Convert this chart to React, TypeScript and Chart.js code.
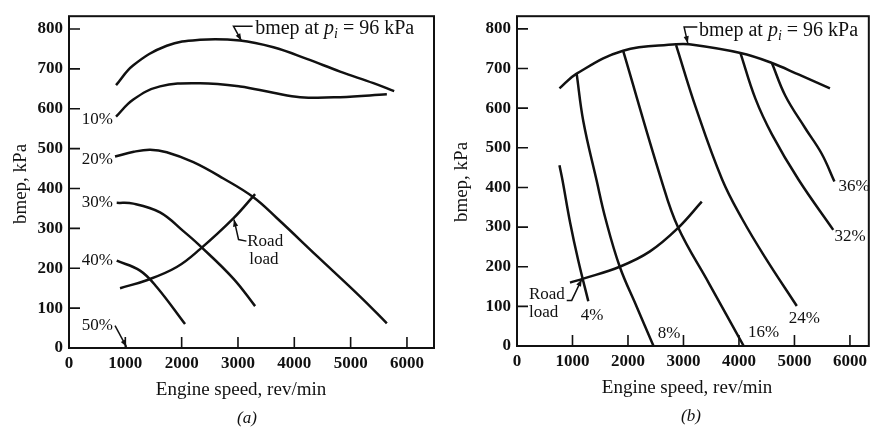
import React, { useEffect, useRef } from "react";
import { Chart, registerables } from "chart.js";

Chart.register(...registerables);

type Pt = [number, number];

// ---------------- shared axis ticks ----------------
const X_TICKS = [0, 1000, 2000, 3000, 4000, 5000, 6000];
const Y_TICKS = [0, 100, 200, 300, 400, 500, 600, 700, 800];

// ---------------- panel (a): engine speed (rev/min) vs bmep (kPa) ----------------
const A_BMEP96: Pt[] = [[835, 659], [1142, 709], [1735, 758], [2327, 773], [3037, 771], [3629, 754], [4222, 725], [4813, 693], [5405, 664], [5773, 644]];
const A_10: Pt[] = [[835, 580], [1142, 623], [1616, 656], [2327, 664], [3037, 656], [3629, 640], [4103, 629], [4813, 629], [5643, 636]];
const A_20: Pt[] = [[817, 480], [1150, 492], [1439, 497], [1735, 491], [2208, 466], [2741, 425], [3274, 378], [3689, 326], [4400, 231], [5169, 129], [5643, 62]];
const A_30: Pt[] = [[847, 364], [1142, 362], [1616, 340], [2030, 293], [2327, 256], [2918, 174], [3304, 105]];
const A_40: Pt[] = [[847, 219], [1261, 194], [1557, 153], [2060, 60]];
const A_ROAD: Pt[] = [[906, 150], [1380, 170], [1913, 203], [2327, 248], [2918, 325], [3304, 386]];
const A_LEAD_50: Pt[] = [[1020, 3], [817, 56]];
const A_LEAD_BMEP: Pt[] = [[3060, 771], [2920, 807], [3260, 807]];
const A_LEAD_ROAD: Pt[] = [[2930, 322], [3010, 272], [3150, 268]];

// ---------------- panel (b) ----------------
const B_BMEP96: Pt[] = [[765, 650], [1075, 687], [1912, 745], [2867, 761], [3100, 761], [4027, 739], [4594, 714], [5072, 685], [5640, 650]];
const B_4: Pt[] = [[765, 456], [820, 418], [955, 313], [1105, 215], [1285, 113]];
const B_8: Pt[] = [[1075, 687], [1195, 567], [1434, 418], [1595, 321], [1852, 200], [2151, 101], [2460, 0]];
const B_16: Pt[] = [[1912, 745], [2599, 420], [2900, 300], [3459, 158], [4086, 0]];
const B_24: Pt[] = [[2867, 759], [3226, 600], [3697, 420], [4056, 321], [4474, 223], [5042, 101]];
const B_32: Pt[] = [[4027, 739], [4296, 624], [4594, 534], [5072, 420], [5699, 293]];
const B_36: Pt[] = [[4594, 714], [4833, 632], [5192, 550], [5491, 485], [5720, 415]];
const B_ROAD: Pt[] = [[955, 160], [1195, 170], [1852, 200], [2390, 238], [2897, 297], [3330, 364]];
const B_LEAD_ROAD: Pt[] = [[1165, 168], [986, 115], [896, 115]];
const B_LEAD_BMEP: Pt[] = [[3077, 764], [3011, 805], [3250, 805]];

// ---------------- text annotations (anchored in data units) ----------------
type Lbl = { text: string; x: number; y: number; align: CanvasTextAlign };
const A_LABELS: Lbl[] = [
  { text: "10%", x: 778, y: 574, align: "right" },
  { text: "20%", x: 778, y: 472, align: "right" },
  { text: "30%", x: 778, y: 364, align: "right" },
  { text: "40%", x: 778, y: 220, align: "right" },
  { text: "50%", x: 778, y: 57, align: "right" },
  { text: "Road", x: 3165, y: 268, align: "left" },
  { text: "load", x: 3200, y: 222, align: "left" },
];
const B_LABELS: Lbl[] = [
  { text: "4%", x: 1353, y: 76, align: "center" },
  { text: "8%", x: 2742, y: 32, align: "center" },
  { text: "16%", x: 4444, y: 35, align: "center" },
  { text: "24%", x: 5180, y: 69, align: "center" },
  { text: "32%", x: 6004, y: 277, align: "center" },
  { text: "36%", x: 6075, y: 403, align: "center" },
  { text: "Road", x: 215, y: 130, align: "left" },
  { text: "load", x: 215, y: 84, align: "left" },
];
const A_BMEP_LABEL: Pt = [3305, 803];
const B_BMEP_LABEL: Pt = [3280, 798];

const INK = "#111";
const FAMILY = "'Liberation Serif', 'Times New Roman', serif";

type Series = { data: Pt[]; smooth: boolean; arrow?: boolean };
interface PanelCfg {
  series: Series[];
  labels: Lbl[];
  bmepAt: Pt;
  xMax: number;
  yMax: number;
  padTop: number;
  padRight: number;
  yWidth: number;
  xHeight: number;
  xTitle: [number, number];
  yTitle: [number, number];
  tag: string;
  tagPos: [number, number];
}

const PANEL_A: PanelCfg = {
  series: [
    { data: A_BMEP96, smooth: true },
    { data: A_10, smooth: true },
    { data: A_20, smooth: true },
    { data: A_30, smooth: true },
    { data: A_40, smooth: true },
    { data: A_ROAD, smooth: true },
    { data: A_LEAD_50, smooth: false, arrow: true },
    { data: A_LEAD_BMEP, smooth: false, arrow: true },
    { data: A_LEAD_ROAD, smooth: false, arrow: true },
  ],
  labels: A_LABELS,
  bmepAt: A_BMEP_LABEL,
  xMax: 6480,
  yMax: 832,
  padTop: 8,
  padRight: 2,
  yWidth: 69,
  xHeight: 82,
  xTitle: [241, 390],
  yTitle: [21, 184],
  tag: "(a)",
  tagPos: [247, 419],
};

const PANEL_B: PanelCfg = {
  series: [
    { data: B_BMEP96, smooth: true },
    { data: B_4, smooth: true },
    { data: B_8, smooth: true },
    { data: B_16, smooth: true },
    { data: B_24, smooth: true },
    { data: B_32, smooth: true },
    { data: B_36, smooth: true },
    { data: B_ROAD, smooth: true },
    { data: B_LEAD_ROAD, smooth: false, arrow: true },
    { data: B_LEAD_BMEP, smooth: false, arrow: true },
  ],
  labels: B_LABELS,
  bmepAt: B_BMEP_LABEL,
  xMax: 6340,
  yMax: 832,
  padTop: 7,
  padRight: 1,
  yWidth: 81,
  xHeight: 84,
  xTitle: [251, 388],
  yTitle: [26, 182],
  tag: "(b)",
  tagPos: [255, 417],
};

function drawBmep(ctx: CanvasRenderingContext2D, x: number, y: number) {
  const parts = [
    { t: "bmep at ", f: `20px ${FAMILY}`, dy: 0 },
    { t: "p", f: `italic 20px ${FAMILY}`, dy: 0 },
    { t: "i", f: `italic 14px ${FAMILY}`, dy: 4 },
    { t: " = 96 kPa", f: `20px ${FAMILY}`, dy: 0 },
  ];
  ctx.textAlign = "left";
  ctx.textBaseline = "alphabetic";
  let cx = x;
  for (const p of parts) {
    ctx.font = p.f;
    ctx.fillText(p.t, cx, y + p.dy);
    cx += ctx.measureText(p.t).width;
  }
}

function Panel({ cfg, left }: { cfg: PanelCfg; left: number }) {
  const ref = useRef<HTMLCanvasElement>(null);
  useEffect(() => {
    const canvas = ref.current!;
    const overlay = {
      id: "overlay",
      afterDraw(chart: any) {
        const { ctx, chartArea: ca } = chart;
        const xs = chart.scales.x;
        const ys = chart.scales.y;
        ctx.save();
        ctx.strokeStyle = INK;
        ctx.fillStyle = INK;
        // frame
        ctx.lineWidth = 2;
        ctx.strokeRect(ca.left, ca.top, ca.right - ca.left, ca.bottom - ca.top);
        // inward tick marks
        ctx.lineWidth = 1.6;
        ctx.beginPath();
        xs.ticks.forEach((t: any) => {
          if (t.value === 0) return;
          const p = xs.getPixelForValue(t.value);
          ctx.moveTo(p, ca.bottom);
          ctx.lineTo(p, ca.bottom - 11);
        });
        ys.ticks.forEach((t: any) => {
          if (t.value === 0) return;
          const p = ys.getPixelForValue(t.value);
          ctx.moveTo(ca.left, p);
          ctx.lineTo(ca.left + 11, p);
        });
        ctx.stroke();
        // arrowheads at the first point of leader lines
        cfg.series.forEach((s, i) => {
          if (!s.arrow) return;
          const pts = chart.getDatasetMeta(i).data;
          const tip = pts[0];
          const prev = pts[1];
          const ang = Math.atan2(tip.y - prev.y, tip.x - prev.x);
          const L = 7;
          const W = 2.6;
          ctx.beginPath();
          ctx.moveTo(tip.x, tip.y);
          ctx.lineTo(tip.x - L * Math.cos(ang) + W * Math.sin(ang), tip.y - L * Math.sin(ang) - W * Math.cos(ang));
          ctx.lineTo(tip.x - L * Math.cos(ang) - W * Math.sin(ang), tip.y - L * Math.sin(ang) + W * Math.cos(ang));
          ctx.closePath();
          ctx.fill();
        });
        // labels
        ctx.font = `17px ${FAMILY}`;
        ctx.textBaseline = "middle";
        cfg.labels.forEach((l) => {
          ctx.textAlign = l.align;
          ctx.fillText(l.text, xs.getPixelForValue(l.x), ys.getPixelForValue(l.y));
        });
        drawBmep(ctx, xs.getPixelForValue(cfg.bmepAt[0]), ys.getPixelForValue(cfg.bmepAt[1]) + 6);
        // axis titles
        ctx.font = `19px ${FAMILY}`;
        ctx.textAlign = "center";
        ctx.textBaseline = "middle";
        ctx.fillText("Engine speed, rev/min", cfg.xTitle[0], cfg.xTitle[1]);
        ctx.save();
        ctx.translate(cfg.yTitle[0], cfg.yTitle[1]);
        ctx.rotate(-Math.PI / 2);
        ctx.fillText("bmep, kPa", 0, 0);
        ctx.restore();
        ctx.font = `italic 17px ${FAMILY}`;
        ctx.fillText(cfg.tag, cfg.tagPos[0], cfg.tagPos[1]);
        ctx.restore();
      },
    };

    const tickFont = { family: FAMILY, size: 17, weight: "bold" as const };
    const chart = new Chart(canvas, {
      type: "line",
      data: {
        datasets: cfg.series.map((s) => ({
          data: s.data.map(([x, y]) => ({ x, y })),
          borderColor: INK,
          backgroundColor: INK,
          borderWidth: s.smooth ? 2.5 : 1.5,
          pointRadius: 0,
          fill: false,
          tension: s.smooth ? 0.4 : 0,
          cubicInterpolationMode: "default",
        })),
      },
      options: {
        responsive: false,
        maintainAspectRatio: false,
        animation: false,
        devicePixelRatio: 1,
        events: [],
        layout: { padding: { top: cfg.padTop, right: cfg.padRight, left: 0, bottom: 0 } },
        plugins: { legend: { display: false }, tooltip: { enabled: false } },
        scales: {
          x: {
            type: "linear",
            min: 0,
            max: cfg.xMax,
            grid: { display: false, drawTicks: false },
            border: { display: false },
            ticks: {
              font: tickFont,
              color: INK,
              padding: 5,
              maxRotation: 0,
              autoSkip: false,
              includeBounds: false,
              callback: (v: any) => String(v),
            },
            afterBuildTicks: (s: any) => {
              s.ticks = X_TICKS.map((v) => ({ value: v }));
            },
            afterFit: (s: any) => {
              s.height = cfg.xHeight;
            },
          },
          y: {
            type: "linear",
            min: 0,
            max: cfg.yMax,
            grid: { display: false, drawTicks: false },
            border: { display: false },
            ticks: {
              font: tickFont,
              color: INK,
              padding: 6,
              autoSkip: false,
              includeBounds: false,
              callback: (v: any) => String(v),
            },
            afterBuildTicks: (s: any) => {
              s.ticks = Y_TICKS.map((v) => ({ value: v }));
            },
            afterFit: (s: any) => {
              s.width = cfg.yWidth;
            },
          },
        },
      } as any,
      plugins: [overlay],
    });
    return () => chart.destroy();
  }, []);
  return (
    <canvas
      ref={ref}
      width={436}
      height={430}
      style={{ position: "absolute", left, top: 0, width: 436, height: 430 }}
    />
  );
}

export default function App() {
  return (
    <div style={{ position: "absolute", left: 0, top: 0, width: 872, height: 430, background: "#fff", overflow: "hidden" }}>
      <Panel cfg={PANEL_A} left={0} />
      <Panel cfg={PANEL_B} left={436} />
    </div>
  );
}
